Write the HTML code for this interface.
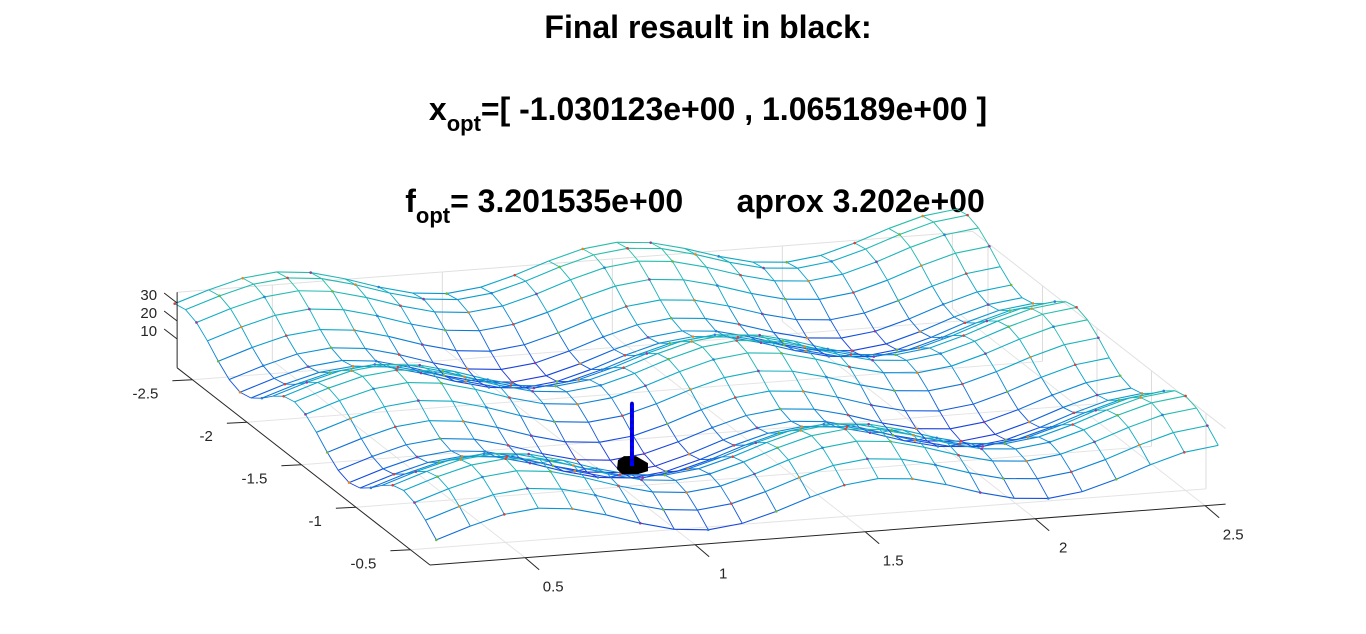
<!DOCTYPE html>
<html><head><meta charset="utf-8"><style>
body{margin:0;background:#fff;width:1366px;height:634px;overflow:hidden}
svg{display:block}
.t{font-family:"Liberation Sans",sans-serif;font-weight:bold;font-size:32px;fill:#000}
.tk{font-family:"Liberation Sans",sans-serif;font-size:15px;fill:#262626}
</style></head><body>
<svg id="chart" width="1366" height="634">
<text class="t" x="708" y="38" text-anchor="middle">Final resault in black:</text>
<text class="t" x="708" y="120" text-anchor="middle">x<tspan font-size="22" dy="11">opt</tspan><tspan dy="-11">=[ -1.030123e+00 , 1.065189e+00 ]</tspan></text>
<text class="t" x="695" y="212" text-anchor="middle">f<tspan font-size="22" dy="11">opt</tspan><tspan dy="-11" xml:space="preserve">= 3.201535e+00      aprox 3.202e+00</tspan></text>
<g id="box"></g><g id="mesh"></g><g id="marks"></g><g id="ticks"></g>
</svg>
<script>
const xTicks=[0.5,1,1.5,2,2.5];
const yTicks=[-2.5,-2,-1.5,-1,-0.5];
const zTicks=[10,20,30];
const xGrid=[0.2,0.3,0.4,0.5,0.6,0.7,0.8,0.9,1.0,1.1,1.2,1.3,1.4,1.5,1.6,1.7,1.8,1.9,2.0,2.1,2.2,2.3,2.4,2.5];
const yGrid=[-2.6,-2.5,-2.4,-2.3,-2.2,-2.1,-2.0,-1.9,-1.8,-1.7,-1.6,-1.5,-1.4,-1.3,-1.2,-1.1,-1.0,-0.9,-0.8,-0.7,-0.6,-0.5,-0.4,-0.3,-0.2];
const optPoint=[1.065189,-1.030123,3.201535];
const pathTop=[1.065189,-1.030123,38];
const NS='http://www.w3.org/2000/svg';
function f(x,y){return 20+x*x+y*y-10*Math.cos(2*Math.PI*x)-10*Math.cos(2*Math.PI*y);}
const X0=0.22,Y0=-0.32,Z0=-6;
function P(x,y,z){return [430+(x-X0)*340+(y-Y0)*109, 565-(x-X0)*26+(y-Y0)*85-(z-Z0)*1.8];}
function line(g,a,b,c,w,name){const l=document.createElementNS(NS,'line');l.setAttribute('x1',a[0]);l.setAttribute('y1',a[1]);l.setAttribute('x2',b[0]);l.setAttribute('y2',b[1]);l.setAttribute('stroke',c);l.setAttribute('stroke-width',w);


g.appendChild(l);return l;}
function txt(g,x,y,s,anchor,name){const t=document.createElementNS(NS,'text');t.setAttribute('x',x);t.setAttribute('y',y);t.setAttribute('class','tk');t.setAttribute('text-anchor',anchor);t.textContent=s;


g.appendChild(t);}
const boxG=document.getElementById('box'),meshG=document.getElementById('mesh'),marksG=document.getElementById('marks'),ticksG=document.getElementById('ticks');
const xa=2.56,ya=-2.64,zt=36;
xTicks.forEach(v=>{line(boxG,P(v,ya,Z0),P(v,ya,zt),'#dcdcdc',1,'x-grid-back');line(boxG,P(v,Y0,Z0),P(v,ya,Z0),'#e4e4e4',1,'x-grid-floor');});
yTicks.forEach(v=>{line(boxG,P(xa,v,Z0),P(xa,v,zt),'#dcdcdc',1,'y-grid-back');line(boxG,P(X0,v,Z0),P(xa,v,Z0),'#e4e4e4',1,'y-grid-floor');});
line(boxG,P(X0,ya,zt),P(xa,ya,zt),'#e0e0e0',1,'box-top');
line(boxG,P(xa,ya,zt),P(xa,Y0,zt),'#e0e0e0',1,'box-top');
line(ticksG,P(X0,Y0,Z0),P(xa,Y0,Z0),'#262626',1,'x-axis');
line(ticksG,P(X0,Y0,Z0),P(X0,ya,Z0),'#262626',1,'y-axis');
line(ticksG,P(X0,ya,Z0),P(X0,ya,zt),'#262626',1,'z-axis');
xTicks.forEach(v=>{const a=P(v,Y0,Z0);line(ticksG,a,[a[0]+14,a[1]+12],'#262626',1,'x-tick');txt(ticksG,a[0]+28,a[1]+34,String(v),'middle','x-tick-label');});
yTicks.forEach(v=>{const a=P(X0,v,Z0);line(ticksG,a,[a[0]-20,a[1]+1],'#262626',1,'y-tick');txt(ticksG,a[0]-34,a[1]+19,String(v),'end','y-tick-label');});
zTicks.forEach(v=>{const a=P(X0,ya,v);line(ticksG,a,[a[0]-13,a[1]-10],'#262626',1,'z-tick');txt(ticksG,a[0]-20,a[1]-3,String(v),'end','z-tick-label');});
function col(z){const stops=[[0,[50,40,200]],[10,[20,70,225]],[20,[15,120,215]],[30,[10,165,205]],[45,[40,190,170]]];
for(let i=0;i<stops.length-1;i++){if(z<=stops[i+1][0]){const t=Math.max(0,(z-stops[i][0])/(stops[i+1][0]-stops[i][0]));const a=stops[i][1],b=stops[i+1][1];return 'rgb('+a.map((v,k)=>Math.round(v+(b[k]-v)*t)).join(',')+')';}}return 'rgb(40,190,170)';}
yGrid.forEach(y=>{for(let i=0;i<xGrid.length-1;i++){const z1=f(xGrid[i],y),z2=f(xGrid[i+1],y);line(meshG,P(xGrid[i],y,z1),P(xGrid[i+1],y,z2),col((z1+z2)/2),1.1,'mesh-row-segment');}});
xGrid.forEach(x=>{for(let j=0;j<yGrid.length-1;j++){const z1=f(x,yGrid[j]),z2=f(x,yGrid[j+1]);line(meshG,P(x,yGrid[j],z1),P(x,yGrid[j+1],z2),col((z1+z2)/2),0.9,'mesh-col-segment');}});
const dotC=['#d9413a','#e08a1e','#8e3ca0','#2a7fd8','#6bb83a'];
xGrid.forEach((x,i)=>{yGrid.forEach((y,j)=>{if((i+j)%2)return;const p=P(x,y,f(x,y));const c=document.createElementNS(NS,'circle');c.setAttribute('cx',p[0]);c.setAttribute('cy',p[1]);c.setAttribute('r',1.3);c.setAttribute('fill',dotC[(i*3+j)%5]);


meshG.appendChild(c);});});
const optPt=P(optPoint[0],optPoint[1],optPoint[2]);const pathTopPt=P(pathTop[0],pathTop[1],pathTop[2]);
const ox=optPt[0]-8,oy=optPt[1];
const blob=document.createElementNS(NS,'path');
blob.setAttribute('d','M'+(ox-14)+','+(oy-6)+' L'+(ox-8)+','+(oy-10)+' L'+(ox+4)+','+(oy-10)+' L'+(ox+16)+','+(oy-3)+' L'+(ox+16)+','+(oy+5)+' L'+(ox+6)+','+(oy+8)+' L'+(ox-10)+','+(oy+8)+' L'+(ox-15)+','+(oy+3)+'Z');
blob.setAttribute('fill','#000');


marksG.appendChild(blob);
line(marksG,[ox,pathTopPt[1]],[ox,oy],'#0000ff',4,'search-path');
for(let k=0;k<10;k++){const c=document.createElementNS(NS,'circle');c.setAttribute('cx',ox);c.setAttribute('cy',pathTopPt[1]+k*(oy-pathTopPt[1])/10);c.setAttribute('r',1.8);c.setAttribute('fill','#0000cc');


marksG.appendChild(c);}
</script>
</body></html>
